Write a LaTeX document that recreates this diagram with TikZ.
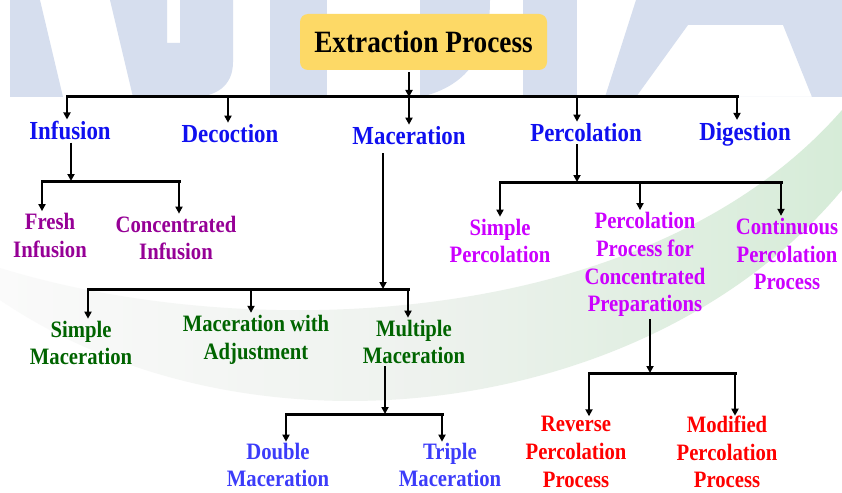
\documentclass[tikz,border=0pt]{standalone}
\usepackage{fontspec}
\newfontfamily\lblfont{Liberation Serif}[FakeStretch=0.88]
\usetikzlibrary{arrows.meta}
\definecolor{ybox}{RGB}{253,217,102}
\definecolor{wmark}{RGB}{214,222,238}
\definecolor{cblue}{RGB}{16,16,240}
\definecolor{cpurple}{RGB}{150,0,150}
\definecolor{cmagenta}{RGB}{204,0,255}
\definecolor{cgreen}{RGB}{0,100,0}
\definecolor{clblue}{RGB}{60,60,250}
\definecolor{cred}{RGB}{255,0,0}
\definecolor{swleft}{RGB}{250,250,250}
\definecolor{swmid}{RGB}{238,242,238}
\definecolor{swright}{RGB}{214,236,216}
\begin{document}
\begin{tikzpicture}[x=1pt,y=-1pt,
  lbl/.style={font=\lblfont\bfseries\fontsize{23.5}{27.7}\selectfont, align=center, inner sep=2pt},
  lone/.style={lbl, font=\lblfont\bfseries\fontsize{26}{30}\selectfont, text=cblue},
  lpurple/.style={lbl, text=cpurple},
  lmagenta/.style={lbl, text=cmagenta},
  lgreen/.style={lbl, text=cgreen},
  llblue/.style={lbl, text=clblue, inner sep=1pt},
  lred/.style={lbl, text=cred, inner sep=1pt},
  titlebox/.style={fill=ybox, rounded corners=8pt, minimum width=247pt, minimum height=56pt,
    font=\lblfont\bfseries\fontsize{31}{36}\selectfont, text=black},
  arr/.style={-{Triangle[length=7pt,width=7pt]}, line width=1.8pt, black},
  barline/.style={line width=3pt, black, line cap=rect}]
\useasboundingbox (0,0) rectangle (842,492);
\fill[white] (0,0) rectangle (842,492);
% background swoosh
\shade[left color=swleft, right color=swright, middle color=swmid]
  (0,300) .. controls (250,470) and (650,420) .. (842,190)
  -- (842,110) .. controls (650,330) and (250,345) .. (0,268) -- cycle;
% watermark letters
\fill[wmark] (10,0) -- (40,0) -- (63,97) -- (10,97) -- cycle;
\fill[wmark] (110,0) -- (167,0) -- (167,43) -- (180,43) -- (180,0) -- (233,0) -- (233,62)
  .. controls (233,86) and (216,97) .. (192,97) -- (133,97) -- cycle;
\fill[wmark] (270,0) rectangle (327,97);
\fill[wmark] (420,0) -- (490,0) .. controls (490,50) and (470,86) .. (420,97) -- cycle;
\fill[wmark] (523,0) rectangle (577,97);
\fill[wmark, even odd rule] (636,0) -- (842,0) -- (842,97) -- (605,97) -- cycle
  (688,25) -- (783,25) -- (812,97) -- (636,97) -- cycle;

% nodes
\node[titlebox] (title) at (423.5,42) {Extraction Process};
\node[lone] (inf) at (70,131) {Infusion};
\node[lone] (dec) at (230,134) {Decoction};
\node[lone] (mac) at (409,136) {Maceration};
\node[lone] (per) at (586,133) {Percolation};
\node[lone] (dig) at (745,134) {Digestion};

\node[lpurple] (fresh) at (50,235.5) {Fresh\\Infusion};
\node[lpurple] (conc) at (176,238) {Concentrated\\Infusion};

\node[lgreen] (smac) at (81,343) {Simple\\Maceration};
\node[lgreen] (madj) at (256,339.5) {Maceration with\\Adjustment};
\node[lgreen] (mmac) at (414,342) {Multiple\\Maceration};

\node[llblue] (dmac) at (278,465) {Double\\Maceration};
\node[llblue] (tmac) at (450,465) {Triple\\Maceration};

\node[lmagenta] (sper) at (500,241) {Simple\\Percolation};
\node[lmagenta] (pcon) at (645,264.5) {Percolation\\Process for\\Concentrated\\Preparations};
\node[lmagenta] (cper) at (787,254) {Continuous\\Percolation\\Process};

\node[lred] (rper) at (576,452) {Reverse\\Percolation\\Process};
\node[lred] (mper) at (727,452) {Modified\\Percolation\\Process};

% junction coordinates
\coordinate (t0) at (409,97);
\coordinate (j1) at (67,97);
\coordinate (j2) at (228,97);
\coordinate (j3) at (409,97);
\coordinate (j4) at (577,97);
\coordinate (j5) at (737,97);

\coordinate (ib) at (71,181);
\coordinate (iL) at (42,181);
\coordinate (iR) at (179,181);

\coordinate (mb) at (383,289);
\coordinate (mL) at (88,289);
\coordinate (mM) at (251,289);
\coordinate (mR) at (408,289);

\coordinate (nb) at (385,414);
\coordinate (nL) at (286,414);
\coordinate (nR) at (442,414);

\coordinate (pb) at (577,182);
\coordinate (pL) at (500,182);
\coordinate (pM) at (640,182);
\coordinate (pR) at (781,182);

\coordinate (qb) at (650,373);
\coordinate (qL) at (589,373);
\coordinate (qR) at (735,373);

% level 0
\draw[arr] (t0 |- title.south) ++(0,2) -- (t0);
\draw[barline] (j1) -- (j5);
\draw[arr] (j1) -- (j1 |- inf.north);
\draw[arr] (j2) -- (j2 |- dec.north);
\draw[arr] (j3) -- (j3 |- mac.north);
\draw[arr] (j4) -- (j4 |- per.north);
\draw[arr] (j5) -- (j5 |- dig.north);

% infusion
\draw[arr] (ib |- inf.south) -- (ib);
\draw[barline] (iL) -- (iR);
\draw[arr] (iL) -- (iL |- fresh.north);
\draw[arr] (iR) -- (iR |- conc.north);

% maceration
\draw[arr] ([yshift=-6pt]mb |- mac.south) -- (mb);
\draw[barline] (mL) -- (mR);
\draw[arr] (mL) -- (mL |- smac.north);
\draw[arr] (mM) -- (mM |- madj.north);
\draw[arr] (mR) -- (mR |- mmac.north);

% multiple maceration
\draw[arr] (nb |- mmac.south) -- (nb);
\draw[barline] (nL) -- (nR);
\draw[arr] (nL) -- (nL |- dmac.north);
\draw[arr] (nR) -- (nR |- tmac.north);

% percolation
\draw[arr] (pb |- per.south) -- (pb);
\draw[barline] (pL) -- (pR);
\draw[arr] (pL) -- (pL |- sper.north);
\draw[arr] (pM) -- (pM |- pcon.north);
\draw[arr] (pR) -- (pR |- cper.north);

% concentrated preparations
\draw[arr] (qb |- pcon.south) -- (qb);
\draw[barline] (qL) -- (qR);
\draw[arr] (qL) -- ([yshift=-1pt]qL |- rper.north);
\draw[arr] (qR) -- ([yshift=-1pt]qR |- mper.north);
\end{tikzpicture}
\end{document}
